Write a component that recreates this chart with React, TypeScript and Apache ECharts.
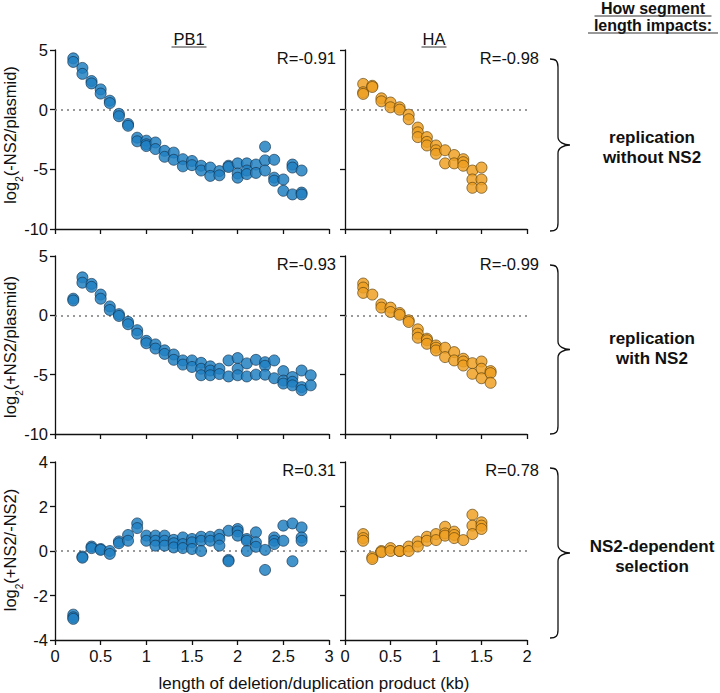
import React, { useEffect, useRef } from "react";
import * as echarts from "echarts";

// ---------- data ----------
const PB1_X = [0.2, 0.3, 0.4, 0.5, 0.6, 0.7, 0.8, 0.9, 1.0, 1.1, 1.2, 1.3, 1.4, 1.5, 1.6, 1.7, 1.8, 1.9, 2.0, 2.1, 2.2, 2.3, 2.4, 2.5, 2.6, 2.7];
const PB1_X_WITH = [0.2, 0.3, 0.4, 0.5, 0.6, 0.7, 0.8, 0.9, 1.0, 1.1, 1.2, 1.3, 1.4, 1.5, 1.6, 1.7, 1.8, 1.9, 2.0, 2.1, 2.2, 2.3, 2.4, 2.5, 2.6, 2.7, 2.8];
const HA_X = [0.2, 0.3, 0.4, 0.5, 0.6, 0.7, 0.8, 0.9, 1.0, 1.1, 1.2, 1.3, 1.4, 1.5];
const HA_X_WITH = [0.2, 0.3, 0.4, 0.5, 0.6, 0.7, 0.8, 0.9, 1.0, 1.1, 1.2, 1.3, 1.4, 1.5, 1.6];

// log2(-NS2/plasmid), PB1
const PB1_NO_NS2 = [
  [4.3, 4.0], [3.5, 3.0], [2.4, 2.2], [1.7, 1.35], [0.75, 0.55], [-0.35, -0.55], [-1.2, -1.35],
  [-2.35, -2.65], [-2.6, -2.9, -3.05], [-2.75, -3.3], [-3.45, -3.95], [-3.6, -4.2], [-4.15, -4.75],
  [-4.3, -4.65], [-4.7, -5.1], [-4.85, -5.55], [-5.15, -5.5], [-4.7, -4.8], [-4.5, -5.35, -5.7],
  [-4.5, -5.1, -5.4], [-4.6, -5.3], [-3.1, -4.25, -5.1], [-4.2, -5.7, -5.95], [-5.85, -6.8],
  [-4.6, -4.85, -7.1], [-5.1, -6.95, -7.1],
];
// log2(+NS2/plasmid), PB1
const PB1_WITH_NS2 = [
  [1.4, 1.25], [3.2, 2.75], [2.65, 2.4], [1.75, 1.4], [0.75, 0.45], [0.1, -0.05], [-0.55, -0.75],
  [-1.25, -1.55], [-2.15, -2.35], [-2.45, -2.8], [-2.95, -3.25], [-3.3, -3.75], [-3.8, -4.15],
  [-3.8, -4.35], [-4.0, -4.5, -5.05], [-4.3, -4.65, -5.05], [-4.5, -4.95], [-3.8, -5.15],
  [-3.6, -4.5, -5.05], [-4.05, -5.15], [-3.75, -5.0], [-3.95, -4.25, -5.0], [-3.8, -5.3],
  [-4.7, -5.5, -5.75], [-5.2, -5.6, -5.9], [-4.65, -6.05, -6.3], [-5.05, -5.9],
];
// log2(+NS2/-NS2), PB1
const PB1_RATIO = [
  [-2.86, -2.98, -3.05], [-0.25, -0.3], [0.2, 0.13], [0.09, 0.05], [0.0, -0.13], [0.43, 0.35],
  [0.72, 0.46], [1.24, 1.03], [0.69, 0.46], [0.69, 0.46, 0.24], [0.69, 0.46, 0.24], [0.5, 0.35, 0.16],
  [0.61, 0.31, 0.13], [0.54, 0.39, 0.09], [0.64, 0.46, 0.0], [0.64, 0.46], [0.73, 0.54, 0.24],
  [0.91, -0.4, -0.46], [0.99, 0.88, 0.69], [0.54, 0.46, 0.0], [0.84, 0.39, 0.19], [0.05, -0.85],
  [0.61, 0.46, 0.31], [1.14, 0.46], [1.24, -0.46], [1.06, 0.61, 0.46],
];
// log2(-NS2/plasmid), HA
const HA_NO_NS2 = [
  [2.16, 1.46, 1.32], [2.0, 1.9], [0.95, 0.7], [0.6, 0.2], [0.2, 0.0], [-0.42, -0.8],
  [-1.5, -1.9, -2.3], [-2.3, -2.7, -3.0], [-3.0, -3.4, -3.7], [-3.4, -4.5], [-3.8, -4.5],
  [-4.15, -4.4, -4.7], [-5.1, -5.85, -6.55], [-4.85, -5.85, -6.55],
];
// log2(+NS2/plasmid), HA
const HA_WITH_NS2 = [
  [2.68, 2.34, 1.89], [1.75], [0.93, 0.65], [0.65, 0.28], [0.2, 0.05], [-0.42, -0.56],
  [-1.18, -1.55, -1.89], [-1.97, -2.1, -2.4], [-2.54, -2.73, -2.96], [-2.73, -3.52], [-3.1, -3.8],
  [-3.66, -3.89, -4.23], [-4.03, -4.93], [-3.89, -4.5, -5.3], [-4.7, -4.87, -5.69],
];
// log2(+NS2/-NS2), HA
const HA_RATIO = [
  [0.76, 0.58, 0.46], [-0.28, -0.36], [0.0, -0.05], [0.13, 0.0], [0.0, 0.0], [0.2, 0.0],
  [0.42, 0.2], [0.64, 0.46], [0.76, 0.49], [1.09, 0.79, 0.69], [0.87, 0.72, 0.58], [0.49],
  [1.63, 1.14, 0.76], [1.29, 1.14, 0.99],
];

const SEGMENTS = ["PB1", "HA"];
const R_VALUES = [["R=-0.91", "R=-0.98"], ["R=-0.93", "R=-0.99"], ["R=0.31", "R=0.78"]];
const Y_NAMES = ["(-NS2/plasmid)", "(+NS2/plasmid)", "(+NS2/-NS2)"];
const ROW_LABELS = [["replication", "without NS2"], ["replication", "with NS2"], ["NS2-dependent", "selection"]];
const HEADER = ["How segment", "length impacts:"];
const X_NAME = "length of deletion/duplication product (kb)";

// ---------- layout ----------
const FONT = "'Liberation Sans', Arial, Helvetica, sans-serif";
const COL_LEFT = [55, 345];
const COL_W = [274, 182];
const COL_XMAX = [3, 2];
const ROW_TOP = [50, 256, 462];
const ROW_H = [179, 178, 178];
const BRACE_X = 550;
const BRACE_W = 20;

function bracePath(x: number, top: number, bottom: number) {
  const mid = (top + bottom) / 2;
  const xm = x + 8;
  const xe = x + BRACE_W;
  return `M${x},${top} C${x + 6},${top} ${xm},${top + 2} ${xm},${top + 8} L${xm},${mid - 8} C${xm},${mid - 3} ${xe - 6},${mid} ${xe},${mid} C${xe - 6},${mid} ${xm},${mid + 3} ${xm},${mid + 8} L${xm},${bottom - 8} C${xm},${bottom - 2} ${x + 6},${bottom} ${x},${bottom}`;
}
const BRACES = [
  [59, 231],
  [265, 434],
  [468, 638],
];
BRACES.forEach((b, i) => {
  echarts.graphic.registerShape("brace" + i, echarts.graphic.extendPath(bracePath(BRACE_X, b[0], b[1]), {}));
});

function toPoints(xs: number[], ys: number[][]) {
  const out: number[][] = [];
  xs.forEach((x, i) => {
    (ys[i] || []).forEach((y) => out.push([x, y]));
  });
  return out;
}

export default function App() {
  const ref = useRef<HTMLDivElement>(null);
  useEffect(() => {
    if (!ref.current) return;
    const chart = echarts.init(ref.current, undefined, { renderer: "svg" });

    const panels = [
      { row: 0, col: 0, data: toPoints(PB1_X, PB1_NO_NS2) },
      { row: 0, col: 1, data: toPoints(HA_X, HA_NO_NS2) },
      { row: 1, col: 0, data: toPoints(PB1_X_WITH, PB1_WITH_NS2) },
      { row: 1, col: 1, data: toPoints(HA_X_WITH, HA_WITH_NS2) },
      { row: 2, col: 0, data: toPoints(PB1_X, PB1_RATIO) },
      { row: 2, col: 1, data: toPoints(HA_X, HA_RATIO) },
    ];

    const axisLine = { show: true, onZero: false, lineStyle: { color: "#111", width: 1.3 } };
    const axisTick = { show: true, inside: false, length: 5, lineStyle: { color: "#111", width: 1.3 } };

    const grid = panels.map((p) => ({
      left: COL_LEFT[p.col],
      top: ROW_TOP[p.row],
      width: COL_W[p.col],
      height: ROW_H[p.row],
      containLabel: false,
    }));
    const xAxis = panels.map((p, i) => ({
      type: "value",
      gridIndex: i,
      min: 0,
      max: COL_XMAX[p.col],
      interval: 0.5,
      axisLine,
      axisTick,
      splitLine: { show: false },
      axisLabel: {
        show: p.row === 2,
        margin: 7,
        color: "#111",
        fontSize: 16.5,
        fontFamily: FONT,
        showMinLabel: true,
        showMaxLabel: true,
      },
    }));
    const yAxis = panels.map((p, i) => ({
      type: "value",
      gridIndex: i,
      min: p.row === 2 ? -4 : -10,
      max: p.row === 2 ? 4 : 5,
      interval: p.row === 2 ? 2 : 5,
      axisLine,
      axisTick,
      splitLine: { show: false },
      axisLabel: {
        show: p.col === 0,
        margin: 7,
        color: "#111",
        fontSize: 16.5,
        fontFamily: FONT,
        showMinLabel: true,
        showMaxLabel: true,
      },
    }));
    const series = panels.map((p, i) => ({
      type: "scatter",
      xAxisIndex: i,
      yAxisIndex: i,
      symbol: "circle",
      symbolSize: 11,
      z: 3,
      itemStyle: {
        color: p.col === 0 ? "#2080c2" : "#eea023",
        opacity: 0.84,
        borderColor: p.col === 0 ? "#12324d" : "#5c3f0a",
        borderWidth: 0.8,
      },
      data: p.data,
      markLine: {
        silent: true,
        symbol: ["none", "none"],
        z: 1,
        label: { show: false },
        lineStyle: { type: [2, 4], color: "#7a7a7a", width: 1.6 },
        data: [{ yAxis: 0 }],
      },
    }));

    const graphic: any[] = [];
    // column titles with underline
    const titleX = [189, 434];
    const titleW = [35, 25];
    SEGMENTS.forEach((s, c) => {
      graphic.push({
        type: "text",
        x: titleX[c],
        y: 39,
        style: { text: s, fontSize: 16.5, fontFamily: FONT, fill: "#111", align: "center", verticalAlign: "middle" },
      });
      graphic.push({
        type: "line",
        shape: { x1: titleX[c] - titleW[c] / 2, y1: 47, x2: titleX[c] + titleW[c] / 2, y2: 47 },
        style: { stroke: "#333", lineWidth: 1 },
      });
    });
    // header
    const headerY = [8, 25];
    const headerW = [117, 130];
    HEADER.forEach((h, k) => {
      graphic.push({
        type: "text",
        x: 653,
        y: headerY[k],
        style: {
          text: h,
          fontSize: 16,
          lineHeight: 16,
          fontWeight: "bold",
          fontFamily: FONT,
          fill: "#111",
          align: "center",
          verticalAlign: "middle",
        },
      });
      graphic.push({
        type: "line",
        shape: { x1: 653 - headerW[k] / 2, y1: headerY[k] + 8, x2: 653 + headerW[k] / 2, y2: headerY[k] + 8 },
        style: { stroke: "#333", lineWidth: 1 },
      });
    });
    // R values
    const rX = [336, 539];
    const rY = [58, 264, 470];
    R_VALUES.forEach((row, r) => {
      row.forEach((t, c) => {
        graphic.push({
          type: "text",
          x: rX[c],
          y: rY[r],
          style: { text: t, fontSize: 16.5, fontFamily: FONT, fill: "#111", align: "right", verticalAlign: "middle" },
        });
      });
    });
    // y axis names
    const yNameY = [135, 347, 550];
    Y_NAMES.forEach((n, r) => {
      graphic.push({
        type: "text",
        x: 10,
        y: yNameY[r],
        rotation: Math.PI / 2,
        style: {
          text: "{n|log}{s|2}{n|" + n + "}",
          align: "center",
          verticalAlign: "middle",
          fill: "#111",
          rich: {
            n: { fontSize: 16.5, fontFamily: FONT, fill: "#111", lineHeight: 20, verticalAlign: "middle" },
            s: { fontSize: 10, fontFamily: FONT, fill: "#111", lineHeight: 20, verticalAlign: "bottom", padding: [0, 0, -4, 0] },
          },
        },
      });
    });
    // x axis name
    graphic.push({
      type: "text",
      x: 314,
      y: 683,
      style: { text: X_NAME, fontSize: 17, fontFamily: FONT, fill: "#111", align: "center", verticalAlign: "middle" },
    });
    // braces and row labels
    const rowLabelY = [147, 348, 556];
    BRACES.forEach((b, i) => {
      graphic.push({
        type: "brace" + i,
        x: 0,
        y: 0,
        style: { stroke: "#111", fill: "none", lineWidth: 1.3 },
      });
      ROW_LABELS[i].forEach((t, k) => {
        graphic.push({
          type: "text",
          x: 652,
          y: rowLabelY[i] + (k - 0.5) * 20,
          style: { text: t, fontSize: 17, fontWeight: "bold", fontFamily: FONT, fill: "#111", align: "center", verticalAlign: "middle" },
        });
      });
    });

    chart.setOption({
      animation: false,
      backgroundColor: "#fff",
      textStyle: { fontFamily: FONT },
      grid,
      xAxis,
      yAxis,
      series,
      graphic,
    } as any);

    return () => chart.dispose();
  }, []);

  return <div ref={ref} style={{ position: "fixed", left: 0, top: 0, width: 720, height: 693, background: "#fff" }} />;
}
